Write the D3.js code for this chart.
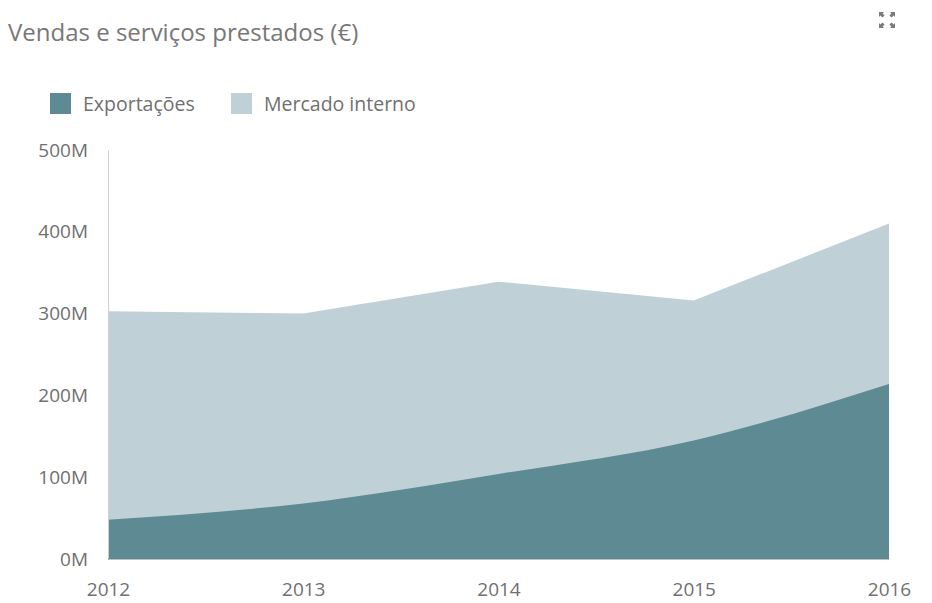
<!DOCTYPE html>
<html><head><meta charset="utf-8">
<script src="https://cdn.jsdelivr.net/npm/d3@7"></script>
<style>
body{margin:0;background:#fff;font-family:"Open Sans","Noto Sans",sans-serif;}
</style></head>
<body><svg id="c" width="932" height="603"></svg>
<script>
const years = ["2012","2013","2014","2015","2016"];
const exportacoes = [48, 68, 104, 145, 214];
const mercadoInterno = [255, 232, 235, 171, 196];
const seriesNames = ["Exportações","Mercado interno"];
const seriesColors = ["#5e8a93","#bfd0d6"];
const yTicks = [0,100,200,300,400,500];

const svg = d3.select("#c");
const x = d3.scalePoint().domain(years).range([108, 889]);
const y = d3.scaleLinear().domain([0,500]).range([559, 150]);

const data = years.map((yr,i)=>({year:yr, e:exportacoes[i], m:mercadoInterno[i]}));
const stack = d3.stack().keys(["e","m"])(data);

// title
svg.append("text").attr("x",8).attr("y",41).attr("fill","#777")
  .style("font-size","24px").text("Vendas e serviços prestados (€)");

// expand icon
const ic = svg.append("g").attr("fill","#7a7a7a").attr("transform","translate(879,12)");
const a = "M0,0 L5,0 L3.6,1.4 L5.6,3.4 L3.4,5.6 L1.4,3.6 L0,5 Z";
ic.append("path").attr("d",a);
ic.append("path").attr("d",a).attr("transform","translate(16,0) scale(-1,1)");
ic.append("path").attr("d",a).attr("transform","translate(0,16) scale(1,-1)");
ic.append("path").attr("d",a).attr("transform","translate(16,16) scale(-1,-1)");

// legend
const legX = [50, 231];
seriesNames.forEach((n,i)=>{
  svg.append("rect").attr("x",legX[i]).attr("y",93).attr("width",21).attr("height",21).attr("fill",seriesColors[i]);
  svg.append("text").attr("x",legX[i]+33).attr("y",111).attr("fill","#707070")
    .style("font-size","19.5px").text(n);
});

// areas: total (upper series) then exports
const areaTop = d3.area().curve(d3.curveLinear)
  .x(d=>x(d.data.year)).y0(y(0)).y1(d=>y(d[1]));
const areaExp = d3.area().curve(d3.curveMonotoneX)
  .x(d=>x(d.data.year)).y0(d=>y(d[0])).y1(d=>y(d[1]));
svg.append("path").datum(stack[1]).attr("d",areaTop).attr("fill",seriesColors[1]);
svg.append("path").datum(stack[0]).attr("d",areaExp).attr("fill",seriesColors[0]);

// y axis
const ya = svg.append("g").attr("transform","translate(108,0)")
  .call(d3.axisLeft(y).tickValues(yTicks).tickSize(0).tickPadding(20).tickFormat(d=>d+"M"));
ya.select(".domain").attr("stroke","#d0d0d0");
ya.selectAll("text").attr("fill","#707070").style("font-size","19px").style("font-family","'Open Sans','Noto Sans',sans-serif");

// baseline
svg.append("line").attr("x1",108).attr("x2",889).attr("y1",y(0)).attr("y2",y(0)).attr("stroke","#6f8589").attr("stroke-width",1);

// x axis
const xa = svg.append("g").attr("transform","translate(0,"+y(0)+")")
  .call(d3.axisBottom(x).tickSize(0).tickPadding(24));
xa.select(".domain").remove();
xa.selectAll("text").attr("fill","#707070").style("font-size","19px").style("font-family","'Open Sans','Noto Sans',sans-serif");
</script></body></html>
